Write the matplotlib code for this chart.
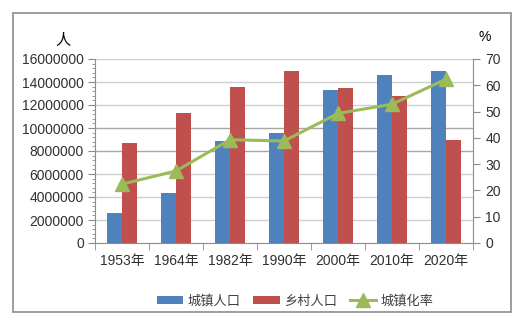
import matplotlib
matplotlib.use("Agg")
import matplotlib.pyplot as plt
import numpy as np
from matplotlib.patches import Rectangle
from matplotlib.ticker import MultipleLocator

plt.rcParams['font.family'] = ['Liberation Sans', 'Noto Sans CJK SC', 'DejaVu Sans']

categories = ["1953年", "1964年", "1982年", "1990年", "2000年", "2010年", "2020年"]
urban = [2630000, 4350000, 8900000, 9570000, 13300000, 14600000, 15000000]
rural = [8670000, 11300000, 13600000, 15000000, 13500000, 12800000, 9000000]
rate = [22.4, 27.4, 39.3, 38.8, 49.3, 52.8, 62.3]
series_names = ["城镇人口", "乡村人口", "城镇化率"]

W, H = 530, 323
fig = plt.figure(figsize=(W / 100, H / 100), dpi=100)

# outer frame
fig.patches.append(Rectangle((13 / W, 1 - 312 / H), (511 - 13) / W, (312 - 13) / H,
                             transform=fig.transFigure, fill=False,
                             edgecolor='#8c8c8c', linewidth=1.2))

ax = fig.add_axes([95 / W, 1 - 243 / H, (473 - 95) / W, (243 - 59) / H])
x = np.arange(len(categories))
bw = 0.28
b1 = ax.bar(x - bw / 2, urban, bw, color='#4f81bd', label=series_names[0], zorder=2)
b2 = ax.bar(x + bw / 2, rural, bw, color='#c0504d', label=series_names[1], zorder=2)
ax.set_ylim(0, 16000000)
ax.set_xlim(-0.5, len(categories) - 0.5)
ax.set_yticks(np.arange(0, 16000001, 2000000))
ax.set_yticklabels([str(v) for v in range(0, 16000001, 2000000)], fontsize=10)
ax.yaxis.set_minor_locator(MultipleLocator(400000))
ax.tick_params(axis='y', which='major', direction='out', length=5, color='#8c8c8c', pad=3,
               labelcolor='#303030')
ax.tick_params(axis='y', which='minor', direction='out', length=2.5, color='#8c8c8c')
ax.set_xticks(x)
ax.set_xticklabels(categories, fontsize=10)
ax.set_xticks(np.arange(-0.5, len(categories), 1), minor=True)
ax.tick_params(axis='x', which='major', length=0, pad=8, labelcolor='#303030')
ax.tick_params(axis='x', which='minor', direction='out', length=5, color='#8c8c8c')
for v in range(2000000, 16000001, 2000000):
    c = '#a6a6a6' if v in (8000000, 10000000) else '#cfcfcf'
    ax.axhline(v, color=c, linewidth=1, zorder=1)
for s in ['top', 'right']:
    ax.spines[s].set_visible(False)
ax.spines['left'].set_color('#8c8c8c')
ax.spines['bottom'].set_color('#8c8c8c')

ax2 = ax.twinx()
l1, = ax2.plot(x, rate, color='#9bbb59', linewidth=2.2, marker='^', markersize=10,
               label=series_names[2], zorder=3)
ax2.set_ylim(0, 70)
ax2.set_yticks(np.arange(0, 71, 10))
ax2.set_yticklabels([str(v) for v in range(0, 71, 10)], fontsize=10)
ax2.tick_params(axis='y', direction='out', length=5, color='#8c8c8c', pad=4, labelcolor='#303030')
for s in ['top', 'left', 'bottom']:
    ax2.spines[s].set_visible(False)
ax2.spines['right'].set_color('#8c8c8c')

fig.text(63 / W, 1 - 40 / H, "人", fontsize=11, ha='center', va='center',
         family=['Noto Sans CJK SC', 'DejaVu Sans'])
fig.text(485 / W, 1 - 37 / H, "%", fontsize=10, ha='center', va='center')

leg = fig.legend([b1, b2, l1], series_names, loc='center', bbox_to_anchor=(295 / W, 1 - 301 / H),
                 ncol=3, frameon=False, handlelength=2.0, handleheight=0.6, handletextpad=0.3,
                 columnspacing=1.0, prop={'family': ['Noto Sans CJK SC', 'DejaVu Sans'], 'size': 9.5})
for t in leg.get_texts():
    t.set_color('#404040')

fig.savefig("out.png", dpi=100)
